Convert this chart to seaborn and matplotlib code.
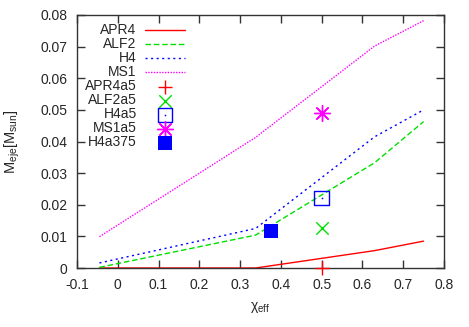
import matplotlib
matplotlib.use("Agg")
import matplotlib.pyplot as plt
from matplotlib.legend_handler import HandlerTuple
import seaborn as sns
import pandas as pd

# ---- data ----
chi_eff = [-0.045, 0.338, 0.63, 0.75]
APR4 = [0.0, 0.0, 0.0055, 0.0085]
ALF2 = [0.0002, 0.0104, 0.0333, 0.0463]
H4 = [0.0016, 0.0125, 0.0415, 0.0500]
MS1 = [0.0099, 0.0413, 0.0702, 0.0782]

pt_names = ["APR4a5", "ALF2a5", "H4a5", "MS1a5", "H4a375"]
pt_chi = [0.5, 0.5, 0.5, 0.5, 0.375]
pt_mej = [0.0, 0.0125, 0.0222, 0.0491, 0.0118]

xticks = [-0.1, 0, 0.1, 0.2, 0.3, 0.4, 0.5, 0.6, 0.7, 0.8]
xticklabels = ["-0.1", "0", "0.1", "0.2", "0.3", "0.4", "0.5", "0.6", "0.7", "0.8"]
yticks = [0, 0.01, 0.02, 0.03, 0.04, 0.05, 0.06, 0.07, 0.08]
yticklabels = ["0", "0.01", "0.02", "0.03", "0.04", "0.05", "0.06", "0.07", "0.08"]

sns.set_theme(style="white")
plt.rcParams["font.family"] = ["Liberation Sans", "DejaVu Sans"]
plt.rcParams["mathtext.fontset"] = "custom"
plt.rcParams["mathtext.rm"] = "Liberation Sans"
plt.rcParams["mathtext.it"] = "Liberation Sans:italic"

fig = plt.figure(figsize=(4.69, 3.27), dpi=100)
ax = fig.add_axes([77 / 469, (327 - 268) / 327, (444 - 77) / 469, (268 - 15) / 327])

df = pd.DataFrame({"chi": chi_eff, "APR4": APR4, "ALF2": ALF2, "H4": H4, "MS1": MS1})
line_styles = {
    "APR4": dict(color="#ff0000", linestyle="-"),
    "ALF2": dict(color="#00e000", linestyle=(0, (4, 2))),
    "H4": dict(color="#0000ff", linestyle=(0, (1.5, 2.5))),
    "MS1": dict(color="#ff00ff", linestyle=(0, (1, 1))),
}
for name, st in line_styles.items():
    sns.lineplot(data=df, x="chi", y=name, ax=ax, label=name, linewidth=1.0, **st)

pt_styles = [
    dict(color="#ff0000", marker="+", s=110, linewidth=1.0),
    dict(color="#00e000", marker="x", s=80, linewidth=1.0),
    dict(facecolor="none", edgecolor="#0000ff", marker="s", s=110, linewidth=1.0),
    dict(color="#ff00ff", marker=(8, 2, 0), s=130, linewidth=1.0),
    dict(color="#0000ff", marker="s", s=100, linewidth=0),
]
for name, x, y, st in zip(pt_names, pt_chi, pt_mej, pt_styles):
    sns.scatterplot(x=[x], y=[y], ax=ax, label=name, clip_on=False, zorder=5, **st)

# centre dot of the open square (gnuplot style)
sns.scatterplot(x=[pt_chi[2]], y=[pt_mej[2]], ax=ax, color="#0000ff", marker="o", s=1.5,
                linewidth=0, zorder=6, legend=False)
dot = ax.collections[-1]

ax.set_xlim(-0.1, 0.8)
ax.set_ylim(0, 0.08)
ax.set_xticks(xticks)
ax.set_xticklabels(xticklabels)
ax.set_yticks(yticks)
ax.set_yticklabels(yticklabels)
ax.tick_params(direction="in", length=6, width=1, color="#333333", top=True, right=True,
               labelsize=10, pad=7, bottom=True, left=True, labeltop=False, labelright=False)
for sp in ax.spines.values():
    sp.set_color("#333333")
    sp.set_linewidth(1.0)
    sp.set_visible(True)

ax.set_xlabel("χ$_{\\mathrm{eff}}$", fontsize=10, labelpad=6)
ax.set_ylabel("M$_{\\mathrm{eje}}$[M$_{\\mathrm{sun}}$]", fontsize=10.5, labelpad=13)

handles, labels = ax.get_legend_handles_labels()
idx = labels.index("H4a5")
handles[idx] = (handles[idx], dot)
leg = ax.legend(handles, labels, loc="upper left", bbox_to_anchor=(-0.005, 1.005), frameon=False,
                markerfirst=False, fontsize=10, handlelength=2.9, handletextpad=0.6,
                labelspacing=0.0, borderpad=0.2,
                handler_map={tuple: HandlerTuple(ndivide=1, pad=0)})

fig.savefig("out.png", dpi=100)
